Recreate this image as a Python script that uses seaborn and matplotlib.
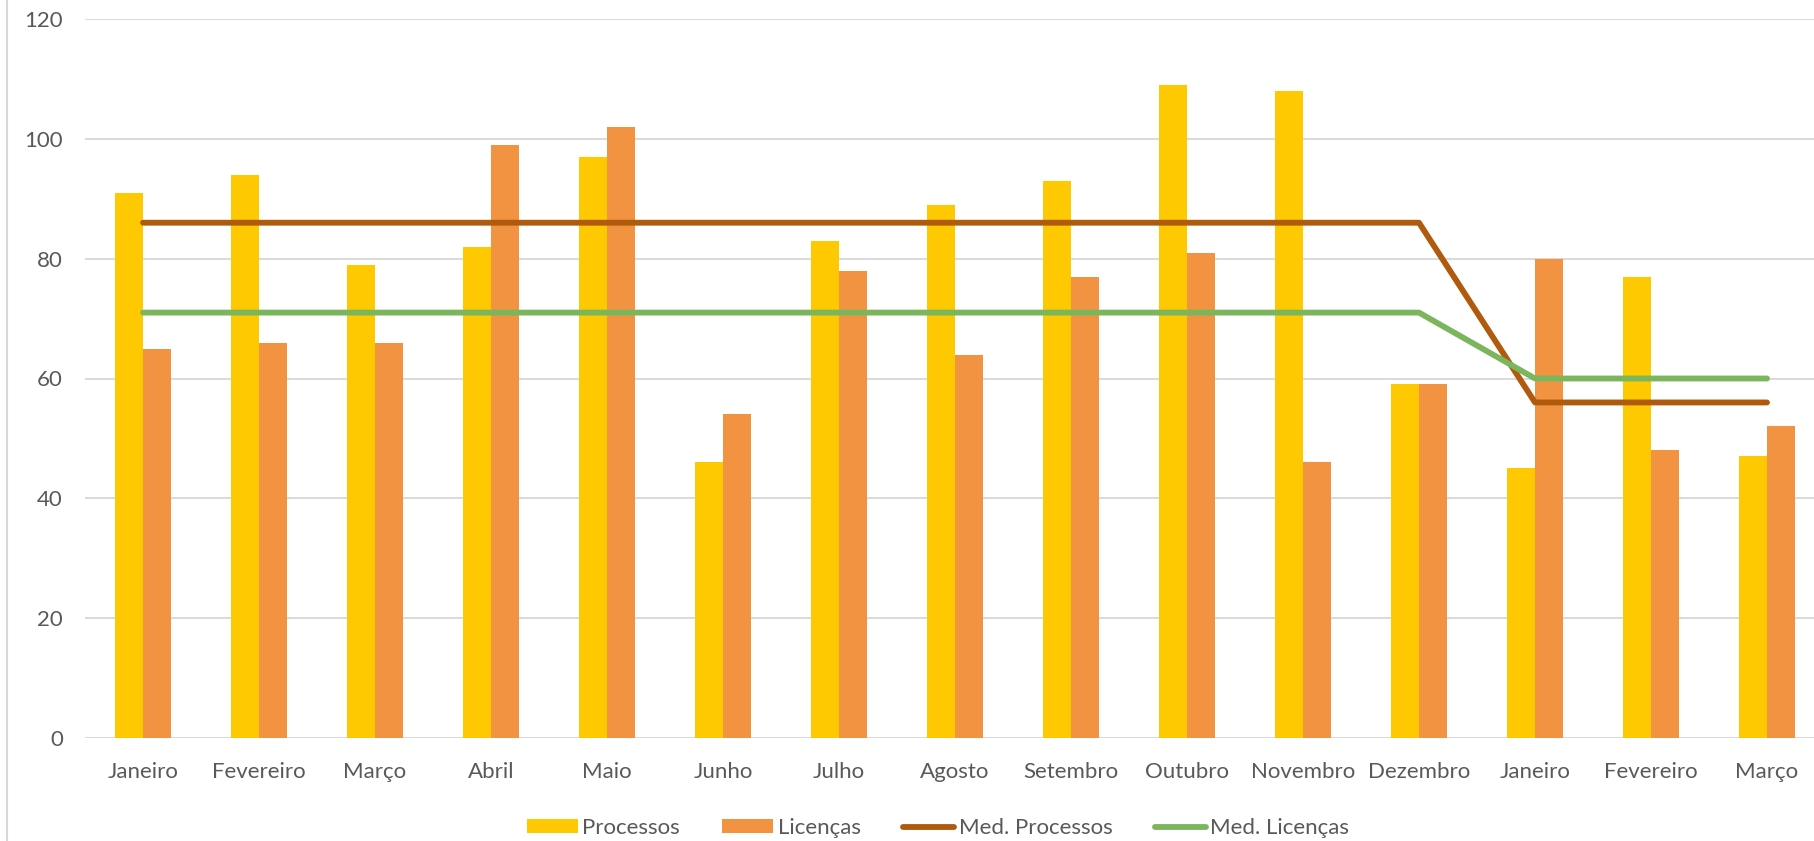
import numpy as np
import pandas as pd
import matplotlib
matplotlib.use('Agg')
import matplotlib.pyplot as plt
from matplotlib.lines import Line2D
import seaborn as sns


# ==============================
# DATA
# ==============================
MONTHS = ["Janeiro", "Fevereiro", "Março", "Abril", "Maio", "Junho", "Julho",
          "Agosto", "Setembro", "Outubro", "Novembro", "Dezembro",
          "Janeiro", "Fevereiro", "Março"]

PROCESSOS = [91, 94, 79, 82, 97, 46, 83, 89, 93, 109, 108, 59, 45, 77, 47]
LICENCAS = [65, 66, 66, 99, 102, 54, 78, 64, 77, 81, 46, 59, 80, 48, 52]

MED_PROCESSOS = [86] * 12 + [56] * 3
MED_LICENCAS = [71] * 12 + [60] * 3

Y_TICKS = [0, 20, 40, 60, 80, 100, 120]

# ==============================
# STYLE
# ==============================
YELLOW = "#FFC900"
ORANGE = "#F29342"
BROWN = "#AF5A0C"
GREEN = "#7BB65C"
GRID = "#D9D9D9"
TEXT = "#595959"

sns.set_style("white")
plt.rcParams['font.family'] = ['Lato', 'DejaVu Sans']
FS = 16

# ==============================
# BUILD TABLE
# ==============================
pos = np.arange(len(MONTHS))
bars = pd.DataFrame({
    "pos": np.concatenate([pos, pos]),
    "valor": PROCESSOS + LICENCAS,
    "serie": ["Processos"] * len(pos) + ["Licenças"] * len(pos),
})

# ==============================
# PLOT
# ==============================
fig = plt.figure(figsize=(18.14, 8.41), dpi=100)
ax = fig.add_axes([85 / 1814, 103 / 841, 1740 / 1814, 719 / 841])

sns.barplot(data=bars, x="pos", y="valor", hue="serie",
            hue_order=["Processos", "Licenças"],
            palette=[YELLOW, ORANGE], width=0.475, saturation=1,
            linewidth=0, ax=ax)

sns.lineplot(x=pos, y=MED_PROCESSOS, color=BROWN, linewidth=4.2,
             solid_capstyle='round', label="Med. Processos", ax=ax)
sns.lineplot(x=pos, y=MED_LICENCAS, color=GREEN, linewidth=4.2,
             solid_capstyle='round', label="Med. Licenças", ax=ax)

ax.set_xlim(-0.5, len(MONTHS) - 0.5)
ax.set_ylim(0, 120)
ax.set_yticks(Y_TICKS)
ax.set_xticks(pos)
ax.set_xticklabels(MONTHS)
ax.set_xlabel("")
ax.set_ylabel("")

ax.grid(axis='y', color=GRID, linewidth=1.4)
ax.grid(axis='x', visible=False)
ax.set_axisbelow(True)
for s in ax.spines.values():
    s.set_visible(False)

ax.tick_params(axis='x', length=0, pad=17, labelsize=FS, labelcolor=TEXT)
ax.tick_params(axis='y', length=0, pad=16, labelsize=FS, labelcolor=TEXT)

# legend below
handles, labels = ax.get_legend_handles_labels()
ax.get_legend().remove()
fig.legend(handles, labels, loc='center', bbox_to_anchor=(938 / 1814, 1 - 828 / 841),
           ncol=4, frameon=False, fontsize=FS, labelcolor=TEXT,
           handlelength=2.3, handleheight=0.6, handletextpad=0.2,
           columnspacing=1.9)

# chart area border on the left
fig.add_artist(Line2D([7 / 1814, 7 / 1814], [0, 1], color=GRID, linewidth=1.5,
                      transform=fig.transFigure))

fig.savefig("out.png", dpi=100)
